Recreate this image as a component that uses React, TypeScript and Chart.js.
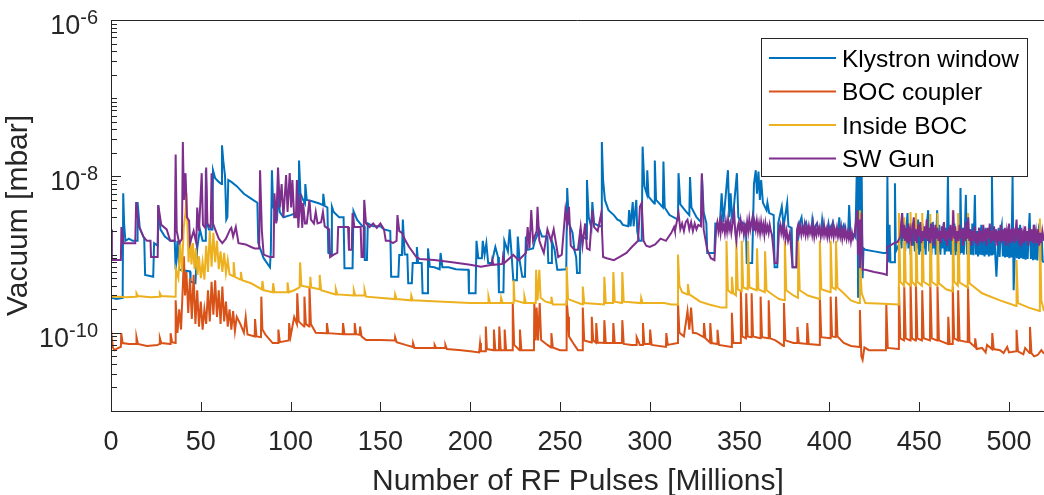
import React, { useEffect, useRef } from "react";
import { Chart, registerables } from "chart.js";

Chart.register(...registerables);

// ---------- labels / ticks ----------
const SERIES_LABELS = ["Klystron window", "BOC coupler", "Inside BOC", "SW Gun"];
const SERIES_COLORS = ["#0072BD", "#D95319", "#EDB120", "#7E2F8E"];
const X_TICKS = [0, 50, 100, 150, 200, 250, 300, 350, 400, 450, 500];
const Y_LABELED_EXPONENTS = [-6, -8, -10];
const X_MIN = 0;
const X_MAX = 519.5;
const Y_MIN = 1e-11;
const Y_MAX = 1e-6;
const X_TITLE = "Number of RF Pulses [Millions]";
const Y_TITLE = "Vacuum [mbar]";

// ---------- data: [pulses (millions), pressure (mbar)] ----------
const klystronWindow: [number, number][] = [
  [0, 2.8e-10], [3, 2.7e-10], [6.5, 2.8e-10], [6.8, 6.1e-9], [7.3, 2.5e-9], [8, 1.5e-9], [10, 1.6e-9], [12, 1.5e-9],
  [14.5, 1.5e-9], [14.8, 4.7e-9], [16, 2.2e-9], [18.5, 1.6e-9], [19, 5.5e-10], [23.5, 5.2e-10], [24, 1.4e-9], [26, 1.3e-9],
  [26.3, 4.3e-9], [27.5, 2.1e-9], [30, 1.7e-9], [33, 1.5e-9], [35.5, 1.5e-9], [36, 6.4e-10], [37, 1.5e-9], [38, 6.4e-10],
  [44, 6.1e-10], [44.3, 4.5e-10], [47, 4.3e-10], [48, 1.2e-9], [49.5, 2.1e-9], [51, 1.5e-9], [52.5, 1.5e-9], [52.8, 1.2e-8],
  [53.5, 2.5e-9], [54.5, 2.1e-9], [56.5, 2.1e-9], [56.8, 1.2e-8], [58, 9.5e-9], [60, 8.5e-9], [61.5, 8.0e-9], [61.8, 2.5e-8],
  [62.5, 1.6e-8], [63.5, 1.0e-8], [64.2, 2.8e-9], [64.8, 3e-9], [65.3, 9e-9], [67, 8.5e-9], [70, 7.5e-9], [74, 6.0e-9],
  [78, 5.2e-9], [81.5, 4.6e-9], [82, 1.4e-9], [85, 9e-10], [88.5, 6.9e-10], [89, 1.1e-9], [89.6, 1.2e-8], [90.3, 4.1e-9],
  [92.5, 3.0e-9], [93, 6e-9], [94, 3.5e-9], [96, 3.0e-9], [100, 3.2e-9], [103, 3.4e-9], [104.5, 3.5e-9], [104.7, 1.6e-8],
  [105.5, 6e-9], [107, 5e-9], [108, 4.5e-9], [108.2, 8e-9], [109, 5e-9], [112, 4.8e-9], [116, 4.5e-9], [118, 4.3e-9],
  [118.2, 6e-9], [119, 4.2e-9], [120.5, 4.0e-9], [121, 1.05e-9], [122.5, 1.0e-9], [123, 4.1e-9], [124, 3.5e-9], [127, 3e-9],
  [129.5, 3e-9], [130, 6.7e-10], [134.5, 6.7e-10], [135, 3.6e-9], [137, 2.8e-9], [140, 2.3e-9], [141, 2.3e-9], [141.3, 8.5e-10],
  [142.5, 8.5e-10], [143, 2.5e-9], [146, 2.3e-9], [150, 2.3e-9], [152, 2.1e-9], [155.5, 2.0e-9], [156, 5.2e-10], [160, 5.2e-10],
  [160.5, 9.9e-10], [162, 9.9e-10], [162.5, 2.8e-9], [163.5, 1.0e-9], [165, 1e-9], [165.5, 4.3e-10], [167.5, 4.3e-10], [168, 7.8e-10],
  [170, 7.8e-10], [170.3, 1.25e-9], [171, 7.8e-10], [173, 7.8e-10], [173.5, 3.2e-10], [176, 3.2e-10], [176.5, 1.2e-9], [177.5, 7e-10],
  [180, 6.9e-10], [183, 6.5e-10], [183.5, 1.05e-9], [184.5, 6.9e-10], [188, 6.9e-10], [192, 6.5e-10], [197, 6.4e-10], [199, 6.4e-10],
  [199.3, 3.2e-10], [203, 3.2e-10], [203.5, 1.5e-9], [204.5, 9e-10], [206.5, 9e-10], [207, 1.5e-9], [208, 1e-9], [209, 1.4e-9],
  [210, 7.8e-10], [212, 7.8e-10], [214, 1.25e-9], [215.5, 9.3e-10], [216, 3.3e-10], [218.5, 3.3e-10], [219, 1.5e-9], [221, 1.1e-9],
  [222, 2.1e-9], [223, 1.05e-9], [224, 4.7e-10], [226, 4.7e-10], [226.5, 1.7e-9], [227.5, 8.5e-10], [229, 5.2e-10], [230.5, 5.2e-10],
  [231, 1.7e-9], [232, 1.15e-9], [235, 1.2e-9], [236, 1.5e-9], [237, 1.7e-9], [238.5, 2.1e-9], [240, 1.7e-9], [243, 1.7e-9],
  [243.5, 7.8e-10], [245, 7.8e-10], [245.5, 1.5e-9], [247, 1.15e-9], [248.5, 6.4e-10], [250, 6.4e-10], [253.5, 6.5e-10], [254, 7.1e-9],
  [255, 2.5e-9], [257, 1.9e-9], [258, 1.15e-9], [259, 9.3e-10], [259.5, 5.8e-10], [261, 5.8e-10], [261.3, 1.9e-9], [262.5, 1.7e-9],
  [264.5, 1.6e-9], [265, 9e-9], [266, 3e-9], [267.5, 2.2e-9], [268, 4.7e-9], [269, 2.5e-9], [272, 2.3e-9], [273, 2.3e-9],
  [273.3, 2.75e-8], [274, 9e-9], [275, 5e-9], [277, 3.7e-9], [280, 3.2e-9], [282, 2.8e-9], [283.5, 2.7e-9], [285, 2.4e-9],
  [288, 2.3e-9], [288.5, 3.7e-9], [289.3, 2.3e-9], [290.5, 4.7e-9], [291, 2.3e-9], [292.5, 5e-9], [293, 2.0e-9], [294, 1.5e-9],
  [295.5, 1.5e-9], [296, 2.4e-8], [297, 7.5e-9], [298.3, 6e-9], [298.6, 1.2e-8], [299.3, 5.5e-9], [302.5, 4.5e-9], [302.8, 1.6e-8],
  [303.5, 5e-9], [307.3, 4e-9], [307.6, 1.55e-8], [308.3, 4e-9], [311, 3.2e-9], [315.7, 2.8e-9], [316, 1.1e-8], [317, 4.4e-9],
  [320, 3.6e-9], [322, 3.2e-9], [322.4, 9.8e-9], [323.2, 4e-9], [326, 3e-9], [328.5, 2.6e-9], [329, 1.04e-8], [330, 3.5e-9],
  [331.5, 2.5e-9], [332, 1.05e-9], [336, 1.05e-9], [336.5, 2.5e-9], [339, 2.4e-9], [340, 6.1e-9], [341, 2.6e-9], [343.5, 1.2e-8],
  [344.3, 3e-9], [345, 6.1e-9], [346, 2.5e-9], [348.5, 1.1e-8], [349.3, 3e-9], [351, 2.6e-9], [353.5, 2.4e-9], [354, 7.8e-10],
  [357, 7.8e-10], [358, 8e-9], [359, 1.2e-8], [359.7, 6e-9], [360.5, 1.15e-8], [361.3, 5e-9], [362, 9e-9], [363, 4.6e-9],
  [365, 3.7e-9], [365.5, 4.6e-9], [366.5, 3.4e-9], [369, 3.2e-9], [369.5, 6.9e-10], [371, 6.9e-10], [371.5, 2.5e-9], [373.5, 4.1e-9],
  [374.5, 2.3e-9], [376.5, 4.6e-9], [377.2, 2.3e-9], [379, 2.2e-9], [379.5, 6.9e-10], [382, 6.9e-10], [382.5, 2.2e-9], [384.5, 3.0e-9],
  [385.2, 2.1e-9], [387, 2.6e-9], [388, 2.0e-9], [390, 2.1e-9], [390.5, 2.8e-9], [391.2, 2.1e-9], [393, 2.5e-9], [394, 2.0e-9],
  [395.5, 2.1e-9], [396, 2.8e-9], [396.7, 2.1e-9], [399, 2.1e-9], [399.5, 2.5e-9], [400.2, 2.0e-9], [402, 2.6e-9], [403, 1.9e-9],
  [405, 2.0e-9], [405.5, 3e-9], [406.2, 1.9e-9], [408, 2.4e-9], [409, 1.9e-9], [410.5, 2.0e-9], [411, 4.3e-9], [411.7, 1.9e-9],
  [414, 1.8e-9], [414.5, 1.7e-9], [415.5, 2.2e-8], [416, 2.8e-10], [416.5, 1.2e-8], [417, 3e-10], [417.5, 2e-8], [418, 1.0e-8],
  [418.5, 5e-10], [419, 1.2e-9], [420, 1.15e-9], [425, 1.1e-9], [430, 1.05e-9], [432, 1.05e-9], [432.3, 9.8e-9], [432.8, 8.0e-10],
  [433.5, 2.4e-9], [434, 8e-10], [436, 8e-10], [436.5, 8.2e-9], [437, 1.1e-9],
  [439, 1.4e-9], [439.6, 2.2e-9], [440.2, 1.2e-9], [440.5, 3.4e-9], [441, 1.5e-9], [441.6, 2.6e-9], [442.2, 1.1e-9], [442.8, 2.0e-9],
  [443.5, 3.4e-9], [444, 1.2e-9], [444.6, 2.3e-9], [445.2, 1.0e-9], [445.8, 2.5e-9], [446.4, 1.3e-9], [447, 2.1e-9], [447.6, 1.1e-9],
  [448.2, 2.4e-9], [448.8, 1.2e-9], [449.4, 2.8e-9], [450, 1.0e-9], [450.6, 2.2e-9], [451.2, 1.1e-9], [451.8, 2.5e-9], [452.4, 1.2e-9],
  [453, 2.0e-9], [453.6, 1.0e-9], [454.2, 2.3e-9], [455, 3.7e-9], [455.6, 1.1e-9], [456.2, 2.2e-9], [456.8, 1.0e-9], [457.4, 2.6e-9],
  [458, 1.2e-9], [458.6, 2.1e-9], [459.2, 1.0e-9], [460, 3.7e-9], [460.6, 1.1e-9], [461.2, 2.4e-9], [461.8, 1.0e-9], [462.4, 2.0e-9],
  [463, 1.2e-9], [463.6, 2.5e-9], [464.2, 1.0e-9], [464.8, 2.2e-9], [465.4, 1.1e-9], [466, 9.8e-9], [466.6, 1.1e-9], [467.2, 2.3e-9],
  [467.8, 1.0e-9], [468.4, 2.1e-9], [469, 1.1e-9], [469.6, 2.5e-9], [470.2, 9.8e-10], [470.8, 2.0e-9], [471.4, 1.1e-9], [472, 2.4e-9],
  [472.6, 1.0e-9], [473, 7.1e-9], [473.6, 1.05e-9], [474.2, 2.2e-9], [474.8, 1.0e-9], [475.4, 2.0e-9], [476, 5.8e-9], [476.6, 1.0e-9],
  [477.2, 2.3e-9], [477.8, 9.8e-10], [478.4, 2.1e-9], [479, 1.0e-9], [479.6, 2.5e-9], [480.2, 9.8e-10], [481, 5.8e-9], [481.6, 1.0e-9],
  [482.2, 2.0e-9], [482.8, 9.5e-10], [483.4, 2.2e-9], [484, 1.0e-9], [484.6, 2.4e-9], [485.2, 9.8e-10], [485.8, 1.9e-9], [486.4, 9.5e-10],
  [487, 2.2e-9], [487.6, 1.0e-9], [488.2, 2.0e-9], [488.8, 9.5e-10], [489.4, 2.3e-9], [490, 1.0e-9], [490.5, 9.8e-9], [491.2, 1.0e-9],
  [491.8, 2.1e-9], [492.4, 9.5e-10], [493, 5.2e-10], [493.6, 1.0e-9], [494.2, 2.2e-9], [494.8, 9.3e-10], [495.4, 2.0e-9], [496, 2.4e-9],
  [496.6, 9.5e-10], [497.2, 1.9e-9], [497.8, 9.2e-10], [498.4, 2.1e-9], [499, 9.3e-10], [499.6, 2.0e-9], [500.2, 9.0e-10], [500.8, 1.8e-9],
  [501.4, 9.2e-10], [502, 9.8e-9], [502.6, 3.5e-10], [503.2, 9.3e-10], [503.8, 2.0e-9], [504.4, 9.0e-10], [505, 2.2e-9], [505.6, 8.8e-10],
  [506.2, 2.4e-9], [506.8, 9.0e-10], [507.4, 1.9e-9], [508, 8.8e-10], [508.6, 2.1e-9], [509.2, 8.6e-10], [509.8, 1.8e-9], [510.4, 8.8e-10],
  [511, 2.0e-9], [511.5, 3.4e-9], [512.2, 8.8e-10], [512.8, 1.9e-9], [513.4, 8.5e-10], [514, 2.4e-9], [514.6, 8.6e-10], [515.2, 1.8e-9],
  [515.8, 8.4e-10], [516.4, 2.0e-9], [517, 2.5e-9], [517.6, 8.3e-10], [518.2, 1.7e-9], [518.8, 8.2e-10], [519.5, 8e-10],
];

const bocCoupler: [number, number][] = [
  [0, 1.1e-10], [1, 6.5e-11], [2, 6.0e-11], [4, 6.4e-11], [5.5, 6.6e-11], [5.7, 9.9e-11], [6.5, 7.4e-11], [10, 7.2e-11],
  [14, 7.2e-11], [14.2, 8.8e-11], [15, 7.2e-11], [20, 6.8e-11], [26, 7.0e-11], [27, 7.2e-11], [27.2, 8.6e-11], [28, 7.4e-11],
  [33, 7.2e-11], [33.2, 9.9e-11], [34, 7.6e-11], [35.8, 7.4e-11], [36, 2.6e-10], [37, 1.0e-10], [38, 2.0e-10], [39, 1.1e-10],
  [40, 4e-10], [40.6, 9.5e-10], [41.2, 3e-10], [42, 6e-10], [43, 1.8e-10], [44, 5e-10], [45, 1.5e-10], [46, 5.5e-10],
  [47, 1.3e-10], [48, 3.5e-10], [49, 1.2e-10], [50, 2.5e-10], [51, 1.1e-10], [52, 2.0e-10], [53, 1.3e-10], [54, 3.5e-10],
  [55, 1.4e-10], [56, 4.5e-10], [57, 1.7e-10], [58, 4.7e-10], [59, 1.6e-10], [60, 3.5e-10], [61, 1.3e-10], [62, 3.9e-10],
  [63, 1.4e-10], [64, 2.5e-10], [65, 1.2e-10], [66, 2e-10], [67, 1.1e-10], [68, 1.9e-10], [69, 1.05e-10], [70, 1.6e-10],
  [72, 1.3e-10], [74, 1.0e-10], [75, 1.6e-10], [76, 9.5e-11], [80, 9.0e-11], [80.2, 1.5e-10], [81, 9e-11], [83.5, 8.8e-11],
  [83.7, 2.9e-10], [84.3, 1.1e-10], [86, 9.5e-11], [90, 7.4e-11], [93, 7.4e-11], [93.2, 1.1e-10], [94, 7.6e-11], [99, 8e-11],
  [99.2, 1.33e-10], [100, 9e-11], [102, 1.6e-10], [103.5, 1.3e-10], [103.7, 3.2e-10], [104.5, 1.4e-10], [107.5, 1.2e-10], [107.7, 2.9e-10],
  [108.5, 1.3e-10], [110.3, 1.2e-10], [110.5, 3.9e-10], [111.3, 1.3e-10], [114, 1.0e-10], [120, 9.9e-11], [120.2, 1.33e-10], [121, 9.9e-11],
  [129, 9.6e-11], [129.2, 1.33e-10], [130, 9.6e-11], [135.5, 9.6e-11], [135.7, 1.33e-10], [136.5, 9.6e-11], [138.5, 9.4e-11], [138.7, 1.2e-10],
  [139.5, 9e-11], [142, 8.1e-11], [150, 8.1e-11], [158, 8e-11], [158.2, 8.8e-11], [159, 7.6e-11], [164, 7.0e-11], [168, 6.6e-11],
  [168.2, 7.4e-11], [169, 6.4e-11], [180, 6.4e-11], [180.2, 7.0e-11], [181, 6.4e-11], [186, 6.4e-11], [186.2, 7.0e-11], [187, 6.2e-11],
  [195, 6.0e-11], [200, 5.8e-11], [205, 5.6e-11], [205.5, 7.4e-11], [206, 5.8e-11], [208.5, 5.8e-11], [208.7, 1.2e-10], [209.3, 6.2e-11],
  [213, 6e-11], [213.2, 1.1e-10], [214, 6e-11], [216, 6e-11], [216.2, 1.2e-10], [217, 6e-11], [219, 6e-11], [219.2, 1.1e-10],
  [220, 6e-11], [223.5, 6e-11], [223.7, 2.4e-10], [224.5, 7e-11], [227.5, 6e-11], [227.7, 1.1e-10], [228.5, 6e-11], [235.5, 6e-11],
  [235.7, 2.4e-10], [236.5, 8e-11], [237, 2.1e-10], [237.8, 8e-11], [238.7, 2.4e-10], [239.5, 8.1e-11], [243, 7e-11], [245, 6.5e-11],
  [245.2, 9.9e-11], [246, 6.5e-11], [250, 6.0e-11], [253.5, 6e-11], [253.7, 2.6e-10], [254.5, 1.6e-10], [255, 9e-11], [258, 7e-11],
  [260, 6e-11], [262.5, 6e-11], [262.7, 2.1e-10], [263.5, 8e-11], [267.5, 7.5e-11], [267.7, 1.6e-10], [268.5, 8e-11], [270, 7.5e-11],
  [270.2, 1.33e-10], [271, 7.5e-11], [274.5, 7.4e-11], [274.7, 1.45e-10], [275.5, 7.4e-11], [279.5, 7.4e-11], [279.7, 1.33e-10], [280.5, 7.4e-11],
  [284.5, 7.4e-11], [284.7, 1.45e-10], [285.5, 7.2e-11], [290, 7e-11], [292.5, 7e-11], [292.7, 8.8e-11], [294.5, 7e-11], [296, 7e-11],
  [296.2, 1.33e-10], [297, 7.2e-11], [300, 7.2e-11], [300.2, 1.1e-10], [301, 7e-11], [309, 6.6e-11], [309.2, 9.9e-11], [310, 7e-11],
  [315.5, 7.4e-11], [315.7, 2.4e-10], [316.5, 1e-10], [319, 9e-11], [321, 1.9e-10], [322, 1.1e-10], [323, 2.1e-10], [324, 1.0e-10],
  [326, 9.9e-11], [330, 8.8e-11], [330.2, 1.33e-10], [331, 8.5e-11], [333.5, 7.5e-11], [333.7, 1.33e-10], [334.5, 7.4e-11], [337.5, 7.2e-11],
  [337.7, 1.09e-10], [338.5, 7e-11], [345.5, 6.6e-11], [345.7, 1.8e-10], [346.5, 7.4e-11], [350.5, 7.4e-11], [350.7, 3.5e-10], [351.5, 9e-11],
  [353.5, 8.5e-11], [353.7, 3.2e-10], [354.5, 9e-11], [356.5, 8.8e-11], [356.7, 3.2e-10], [357.5, 9e-11], [361.5, 8.5e-11], [361.7, 2.9e-10],
  [362.5, 8.8e-11], [366, 8.5e-11], [366.2, 2.6e-10], [367, 8.5e-11], [370, 8e-11], [374.5, 6.8e-11], [374.7, 2.4e-10], [375.5, 8e-11],
  [380, 7.4e-11], [382, 7.4e-11], [382.2, 1.19e-10], [383, 7.4e-11], [387.5, 7.2e-11], [387.7, 1.33e-10], [388.5, 7.2e-11], [394.5, 7e-11],
  [394.7, 2.9e-10], [395.5, 8.8e-11], [400.5, 8.5e-11], [400.7, 2.9e-10], [401.5, 9e-11], [403.5, 8.8e-11], [403.7, 2.9e-10], [404.5, 9e-11],
  [408, 7.4e-11], [412, 6.8e-11], [416.8, 6.6e-11], [417, 1.95e-10], [417.8, 5e-11], [418.5, 4.5e-11], [419.5, 6.5e-11], [422, 6.0e-11],
  [431.5, 6.0e-11], [431.7, 2.3e-10], [432.5, 6.4e-11], [438.5, 6.2e-11], [438.7, 3.9e-10], [439.5, 8.5e-11], [441.5, 8e-11], [441.7, 3.9e-10],
  [442.5, 8.5e-11], [445, 8e-11], [445.2, 4.3e-10], [446, 8.5e-11], [448, 8e-11], [448.2, 4.3e-10], [449, 8.5e-11], [451.5, 8e-11],
  [451.7, 3.5e-10], [452.5, 8.5e-11], [456, 8e-11], [456.2, 4.3e-10], [457, 8.5e-11], [460, 8e-11], [460.2, 3.9e-10], [461, 8e-11],
  [466, 7.2e-11], [466.2, 1.6e-10], [467, 7.2e-11], [468.5, 7.2e-11], [468.7, 3.9e-10], [469.5, 8.5e-11], [471.5, 8e-11], [471.7, 3.5e-10],
  [472.5, 8e-11], [477, 7.6e-11], [477.2, 3.9e-10], [478, 7.6e-11], [481, 6.6e-11], [481.2, 8.5e-11], [482, 6.2e-11], [485, 6.4e-11],
  [487, 5.6e-11], [487.8, 7e-11], [490.5, 6.2e-11], [490.7, 9.9e-11], [491.5, 6.2e-11], [495, 6.0e-11], [497, 5.5e-11], [499, 6.6e-11],
  [500, 5.6e-11], [504, 5.8e-11], [504.2, 1.09e-10], [505, 5.8e-11], [508, 5.3e-11], [509, 6.4e-11], [511.5, 5.5e-11], [511.7, 1.19e-10],
  [512.5, 5.5e-11], [514, 5.0e-11], [516, 5.2e-11], [518, 6.0e-11], [519.5, 5.4e-11],
];

const insideBoc: [number, number][] = [
  [0, 2.9e-10], [5, 2.9e-10], [8, 2.85e-10], [14, 2.9e-10], [14.2, 3.2e-10], [15, 2.95e-10], [22, 2.85e-10], [27, 2.9e-10],
  [27.2, 3.2e-10], [28, 2.95e-10], [35.5, 2.9e-10], [36, 2.9e-10], [36.2, 6.4e-10], [37.5, 5.0e-10], [38.5, 1.4e-9], [39.5, 6e-10],
  [40.5, 2.2e-9], [41.5, 3.5e-9], [42, 6.1e-9], [42.6, 2.2e-9], [43.2, 8e-10], [44, 1.8e-9], [44.8, 7.5e-10], [45.6, 1.4e-9],
  [46.5, 6.5e-10], [47.3, 1.2e-9], [48.2, 5.5e-10], [49, 9.5e-10], [50, 5e-10], [51, 8e-10], [52, 4.8e-10], [53, 1.3e-9],
  [54, 6e-10], [55, 2.0e-9], [56, 7e-10], [57, 1.9e-9], [58, 8e-10], [59, 1.5e-9], [60, 6.5e-10], [61, 1.1e-9],
  [62, 6e-10], [63, 1.05e-9], [64, 5.8e-10], [65, 8.5e-10], [66, 5.6e-10], [68, 5.3e-10], [68.3, 8e-10], [69, 5.2e-10],
  [72, 4.8e-10], [72.3, 6e-10], [73, 4.7e-10], [78, 4.3e-10], [84, 3.6e-10], [84.3, 4.6e-10], [85, 3.5e-10], [90, 3.3e-10],
  [90.3, 4.3e-10], [91, 3.3e-10], [98, 3.3e-10], [98.3, 4.4e-10], [99, 3.3e-10], [102, 3.5e-10], [105, 3.8e-10], [105.3, 8e-10],
  [106, 4e-10], [110.8, 3.8e-10], [111, 5.2e-10], [111.5, 3.8e-10], [116, 3.6e-10], [116.2, 5.5e-10], [117, 3.5e-10], [125, 3.1e-10],
  [125.2, 3.6e-10], [126, 3.1e-10], [135, 3.0e-10], [135.2, 3.5e-10], [136, 3.0e-10], [141, 3.0e-10], [141.2, 3.5e-10], [142, 2.9e-10],
  [158, 2.7e-10], [158.2, 3.1e-10], [159, 2.7e-10], [167, 2.6e-10], [167.2, 3.0e-10], [168, 2.6e-10], [185, 2.5e-10], [200, 2.4e-10],
  [210, 2.4e-10], [210.2, 2.9e-10], [211, 2.4e-10], [217, 2.4e-10], [217.2, 2.8e-10], [218, 2.4e-10], [224, 2.4e-10], [224.2, 4.7e-10],
  [224.7, 2.6e-10], [230, 2.4e-10], [230.2, 2.9e-10], [231, 2.4e-10], [236.5, 2.4e-10], [236.7, 6.4e-10], [237.5, 2.6e-10], [238.5, 6.4e-10],
  [239.2, 2.8e-10], [242, 2.5e-10], [245, 2.4e-10], [245.2, 2.9e-10], [246, 2.3e-10], [253.5, 2.3e-10], [253.7, 7e-10], [254.5, 2.7e-10],
  [262.5, 2.3e-10], [262.7, 3.9e-10], [263.5, 2.4e-10], [274.5, 2.3e-10], [274.7, 5.2e-10], [275.5, 2.4e-10], [279.5, 2.4e-10], [279.7, 6e-10],
  [280.5, 2.5e-10], [284.5, 2.4e-10], [284.7, 6e-10], [285.5, 2.5e-10], [295, 2.4e-10], [295.2, 2.8e-10], [296, 2.4e-10], [308, 2.4e-10],
  [312, 2.3e-10], [315.5, 2.3e-10], [315.7, 1.0e-9], [316.5, 4e-10], [318, 3.3e-10], [321, 3.1e-10], [321.2, 4.2e-10], [322, 3.1e-10],
  [325, 2.8e-10], [328, 2.5e-10], [333, 2.3e-10], [340, 2.1e-10], [342.5, 2.1e-10], [342.7, 1.5e-9], [343.5, 3.5e-10], [345.5, 3.2e-10],
  [345.7, 5.2e-10], [346.5, 3.2e-10], [348, 3.0e-10], [348.2, 1.5e-9], [349, 3.6e-10], [351, 3.4e-10], [351.2, 1.5e-9], [352, 3.8e-10],
  [354.5, 3.6e-10], [354.7, 1.5e-9], [355.5, 3.8e-10], [359.5, 3.5e-10], [359.7, 1.2e-9], [360.5, 3.6e-10], [364, 3.3e-10], [364.2, 1.1e-9],
  [365, 3.5e-10], [369, 3.0e-10], [372, 2.7e-10], [375, 2.6e-10], [375.2, 1.5e-9], [376, 3.5e-10], [380, 3.0e-10], [382.5, 2.8e-10],
  [382.7, 1.5e-9], [383.5, 3.5e-10], [388, 3.0e-10], [394.5, 2.7e-10], [394.7, 1.5e-9], [395.5, 3.6e-10], [400.5, 3.3e-10], [400.7, 1.5e-9],
  [401.5, 3.8e-10], [403.5, 3.6e-10], [403.7, 1.5e-9], [404.5, 3.8e-10], [408, 3.2e-10], [412, 2.6e-10], [416, 2.4e-10], [416.8, 2.4e-10],
  [417, 3.7e-9], [417.5, 5e-10], [418, 3.2e-10], [420, 2.4e-10], [430, 2.35e-10], [438.5, 2.3e-10], [438.7, 3.4e-9], [439.5, 4.5e-10],
  [441.5, 4e-10], [441.7, 3.0e-9], [442.5, 4.5e-10], [445, 4.0e-10], [445.2, 3.5e-9], [446, 4.5e-10], [448, 4.0e-10], [448.2, 3.4e-9],
  [449, 4.5e-10], [451.5, 4.0e-10], [451.7, 3.4e-9], [452.5, 4.5e-10], [456, 4.0e-10], [456.2, 3.3e-9], [457, 4.5e-10], [460, 4.0e-10],
  [460.2, 3.4e-9], [461, 4.3e-10], [465, 3.6e-10], [468.5, 3.4e-10], [468.7, 3.7e-9], [469.5, 4.5e-10], [471.5, 4.0e-10], [471.7, 3.4e-9],
  [472.5, 4.4e-10], [477, 3.8e-10], [477.2, 3.4e-9], [478, 4.3e-10], [485, 3.2e-10], [495, 2.6e-10], [504, 2.2e-10], [504.2, 8.5e-10],
  [505, 2.4e-10], [511, 2.1e-10], [517, 1.9e-10], [517.2, 2.9e-9], [518, 2.6e-10], [519.5, 1.9e-10],
];

const swGun: [number, number][] = [
  [0, 2.1e-9], [0.5, 8.5e-10], [3, 8.5e-10], [5.5, 8.5e-10], [5.8, 2.25e-9], [7, 1.4e-9], [13.5, 1.4e-9], [14, 4.7e-9],
  [15.5, 2.3e-9], [18, 1.7e-9], [20, 1.5e-9], [22, 1.5e-9], [22.3, 9.3e-10], [26, 9.3e-10], [26.3, 4.3e-9], [28, 2.4e-9],
  [31, 2.1e-9], [33, 1.5e-9], [35.5, 1.5e-9], [36, 1.9e-8], [36.6, 2e-9], [38, 1.4e-9], [39.5, 1.6e-9], [40, 2.75e-8],
  [40.6, 5e-9], [41.5, 1.1e-8], [42.3, 3e-9], [43.5, 2.7e-9], [44, 1.4e-9], [46, 2e-9], [47.5, 1.4e-9], [48, 4e-9],
  [49, 2e-9], [50.5, 1.1e-8], [51.2, 2.4e-9], [52.5, 2.2e-9], [53, 1.3e-8], [53.7, 2.5e-9], [55.5, 2.2e-9], [56, 1.1e-8],
  [56.8, 2.5e-9], [58, 2.1e-9], [60, 1.6e-9], [62, 1.4e-9], [64, 1.6e-9], [66.3, 2.1e-9], [67, 2.2e-9], [68, 1.7e-9],
  [69.5, 2.25e-9], [71, 1.4e-9], [75, 1.35e-9], [78, 1.25e-9], [80, 1.2e-9], [82.5, 1.2e-9], [83, 1.2e-8], [84, 2e-9],
  [85, 1.0e-9], [88.5, 9.3e-10], [90.5, 9.3e-10], [91, 6.1e-9], [92, 2.5e-9], [93, 1.3e-8], [94, 4e-9], [95, 8e-9],
  [96, 3e-9], [97.5, 1.04e-8], [98.3, 3.5e-9], [99.5, 1.1e-8], [100.3, 4e-9], [101, 9e-9], [102, 3e-9], [103, 3.0e-9],
  [103.5, 9e-9], [104.3, 2.2e-9], [105.5, 6e-9], [106.5, 2.2e-9], [107, 4.6e-9], [108, 2.5e-9], [109, 2.5e-9], [110.5, 5e-9],
  [111.3, 2.8e-9], [113, 2.5e-9], [114, 3.5e-9], [115, 2.5e-9], [117, 2.6e-9], [118, 3.5e-9], [119, 2.3e-9], [121.5, 2.1e-9],
  [122, 9.3e-10], [124, 1.0e-9], [126, 1.05e-9], [126.5, 2.25e-9], [132, 2.25e-9], [132.5, 1.15e-9], [134, 1.15e-9], [134.5, 3.4e-9],
  [135.5, 2.25e-9], [139, 2.25e-9], [139.5, 9.3e-10], [140.5, 9.3e-10], [141, 5e-9], [142, 2.5e-9], [144, 2.25e-9], [146, 2.5e-9],
  [148, 2.2e-9], [150, 2.5e-9], [152, 2.1e-9], [153, 1.5e-9], [155, 1.5e-9], [157, 1.4e-9], [159, 1.5e-9], [159.5, 3.2e-9],
  [160.5, 2e-9], [162, 1.9e-9], [164, 1.5e-9], [166, 1.25e-9], [170, 9.3e-10], [172, 8.8e-10], [180, 8.5e-10], [190, 8.0e-10],
  [200, 7.4e-10], [206, 7.0e-10], [212, 7.4e-10], [212.3, 8.5e-10], [213, 7.4e-10], [218, 7.6e-10], [218.3, 9.3e-10], [219, 7.8e-10],
  [224, 9.9e-10], [227, 8.5e-10], [231, 1.05e-9], [232, 2.25e-9], [233, 1.2e-9], [234, 3.7e-9], [235, 1.5e-9], [237, 2e-9],
  [237.5, 4.1e-9], [238.5, 1.5e-9], [240, 1.2e-9], [241, 1.05e-9], [243, 2.1e-9], [245, 1.5e-9], [246.5, 2.1e-9], [248, 1.3e-9],
  [249, 9.3e-10], [251, 1.0e-9], [253, 3.7e-9], [254, 2.5e-9], [255, 4.1e-9], [256, 1.3e-9], [258, 1.15e-9], [260, 1.15e-9],
  [261.5, 2.25e-9], [262.5, 1.3e-9], [264, 2.5e-9], [265, 1.2e-9], [266.5, 1.15e-9], [268, 3.7e-9], [269, 2.25e-9], [271, 2e-9],
  [273, 3.4e-9], [274, 9.3e-10], [276, 9e-10], [280, 8.5e-10], [283, 9.3e-10], [287, 1.05e-9], [290, 1.25e-9], [293.5, 1.5e-9],
  [294.5, 4.1e-9], [295.5, 4.6e-9], [296.5, 1.5e-9], [298, 1.3e-9], [300, 1.25e-9], [303, 1.35e-9], [306, 1.6e-9], [309, 1.5e-9],
  [312, 1.9e-9], [313.5, 2.25e-9], [314, 2.0e-9], [316, 3.4e-9], [317, 2.1e-9], [318, 2.5e-9], [319, 2.0e-9], [320, 2.6e-9],
  [321, 2.8e-9], [322, 2.1e-9], [323, 2.6e-9], [324, 2.0e-9], [325, 2.5e-9], [326, 2.1e-9], [327, 2.4e-9], [328.5, 2.3e-9],
  [329, 1.1e-8], [330, 2.1e-9], [332, 1.15e-9], [334, 9e-10], [336, 8.5e-10],
  [337, 2.25e-9], [337.6, 2.6e-9], [338.2, 2.0e-9], [338.8, 2.5e-9], [339.4, 1.9e-9], [340, 2.7e-9], [340.6, 2.1e-9], [341.2, 2.4e-9],
  [341.8, 1.9e-9], [342.4, 2.6e-9], [343, 2.0e-9], [343.6, 2.8e-9], [344.2, 2.1e-9], [344.8, 2.5e-9], [345.4, 1.9e-9], [346, 2.4e-9],
  [347, 3.4e-9], [347.6, 1.9e-9], [348.2, 1.5e-9], [348.8, 2.2e-9], [349.4, 2.5e-9], [350, 2.0e-9], [350.6, 2.7e-9], [351.2, 2.1e-9],
  [351.8, 2.4e-9], [352.4, 1.8e-9], [353, 2.3e-9], [353.6, 1.9e-9], [354.2, 2.6e-9], [354.8, 2.0e-9], [355.4, 2.8e-9], [356, 2.1e-9],
  [356.6, 2.5e-9], [357.2, 3.0e-9], [357.8, 2.0e-9], [358.4, 2.6e-9], [359, 2.1e-9], [359.6, 2.7e-9], [360.2, 2.0e-9], [360.8, 2.5e-9],
  [361.4, 1.9e-9], [362, 2.6e-9], [362.6, 2.0e-9], [363.2, 2.4e-9], [363.8, 1.8e-9], [364.4, 2.5e-9], [365, 2.0e-9], [365.6, 2.3e-9],
  [366.2, 1.9e-9], [366.8, 2.4e-9], [367.4, 2.0e-9], [368, 1.8e-9], [368.5, 1.4e-9], [369.5, 7.8e-10], [371, 7.8e-10], [372, 2.1e-9],
  [372.6, 2.4e-9], [373.2, 1.9e-9], [373.8, 2.3e-9], [374.4, 1.8e-9], [375, 2.2e-9], [375.6, 1.6e-9], [376.2, 2.0e-9], [377, 1.5e-9],
  [378, 1.9e-9], [379.5, 6.9e-10], [381.5, 6.9e-10], [382, 2.1e-9], [382.6, 2.4e-9], [383.2, 1.9e-9], [383.8, 2.3e-9], [384.4, 1.8e-9],
  [385, 2.2e-9], [385.6, 1.9e-9], [386.2, 2.4e-9], [386.8, 1.8e-9], [387.4, 2.2e-9], [388, 1.8e-9], [388.6, 2.3e-9], [389.2, 1.9e-9],
  [389.8, 2.2e-9], [390.4, 1.8e-9], [391, 2.4e-9], [391.6, 1.7e-9], [392.2, 2.1e-9], [392.8, 1.8e-9], [393.4, 2.3e-9], [394, 1.9e-9],
  [394.6, 2.2e-9], [395.2, 1.7e-9], [395.8, 2.1e-9], [396.4, 1.8e-9], [397, 2.4e-9], [397.6, 1.8e-9], [398.2, 2.1e-9], [398.8, 1.7e-9],
  [399.4, 2.2e-9], [400, 1.7e-9], [400.6, 2.1e-9], [401.2, 1.8e-9], [401.8, 2.3e-9], [402.4, 1.7e-9], [403, 2.1e-9], [403.6, 1.8e-9],
  [404.2, 2.2e-9], [404.8, 1.7e-9], [405.4, 2.0e-9], [406, 1.7e-9], [406.6, 2.2e-9], [407.2, 1.6e-9], [407.8, 2.0e-9], [408.4, 1.7e-9],
  [409, 2.1e-9], [409.6, 1.6e-9], [410.2, 1.9e-9], [410.8, 1.6e-9], [411.4, 2.0e-9], [412, 1.5e-9], [412.6, 1.9e-9], [413.2, 1.6e-9],
  [414, 1.8e-9], [415.5, 3.7e-9], [416, 1.0e-9], [416.5, 2.8e-9], [417, 6.7e-10], [418, 3.4e-9], [418.5, 6.4e-10], [420, 6.4e-10],
  [425, 6.0e-10], [430, 5.7e-10], [432, 5.5e-10], [432.3, 1.25e-9], [436, 1.4e-9], [438, 1.45e-9],
  [439.5, 1.7e-9], [440, 2.6e-9], [440.5, 3.4e-9], [441, 1.6e-9], [441.6, 2.4e-9], [442.2, 1.5e-9], [442.8, 2.2e-9], [443.4, 1.4e-9],
  [444, 2.5e-9], [444.6, 1.6e-9], [445.2, 2.0e-9], [445.8, 1.3e-9], [446.4, 2.3e-9], [447, 3.0e-9], [447.6, 1.5e-9], [448.2, 2.1e-9],
  [448.8, 1.4e-9], [449.4, 2.4e-9], [450, 1.7e-9], [450.6, 2.6e-9], [451.2, 1.4e-9], [451.8, 2.0e-9], [452.4, 1.5e-9], [453, 2.3e-9],
  [453.6, 1.6e-9], [454.2, 2.8e-9], [454.8, 1.5e-9], [455.4, 2.2e-9], [456, 1.4e-9], [456.6, 2.5e-9], [457.2, 1.7e-9], [457.8, 2.1e-9],
  [458.4, 1.3e-9], [459, 2.4e-9], [459.6, 1.6e-9], [460.2, 2.2e-9], [460.8, 1.5e-9], [461.4, 2.0e-9], [462, 1.4e-9], [462.6, 2.3e-9],
  [463.2, 1.6e-9], [463.8, 2.6e-9], [464.4, 1.5e-9], [465, 2.0e-9], [465.6, 1.3e-9], [466.2, 2.2e-9], [466.8, 1.6e-9], [467.4, 2.4e-9],
  [468, 1.5e-9], [468.6, 2.1e-9], [469, 3.7e-9], [469.5, 1.6e-9], [470.1, 2.3e-9], [470.7, 1.4e-9], [471.3, 2.0e-9], [471.9, 1.5e-9],
  [472.5, 2.4e-9], [473.1, 1.6e-9], [473.7, 2.1e-9], [474.3, 1.3e-9], [474.9, 2.2e-9], [475.5, 1.5e-9], [476.1, 2.6e-9], [476.7, 1.6e-9],
  [477.3, 3.0e-9], [477.9, 1.5e-9], [478.5, 2.1e-9], [479.1, 1.3e-9], [479.7, 2.0e-9], [480.3, 1.5e-9], [480.9, 2.3e-9], [481.5, 1.4e-9],
  [482.1, 1.9e-9], [482.7, 1.3e-9], [483.3, 2.2e-9], [483.9, 1.5e-9], [484.5, 2.0e-9], [485.1, 1.4e-9], [485.7, 2.4e-9], [486.3, 1.5e-9],
  [486.9, 2.1e-9], [487.5, 1.3e-9], [488.1, 2.2e-9], [488.7, 1.6e-9], [489.3, 2.5e-9], [489.9, 1.4e-9], [490.5, 2.0e-9], [491.1, 1.5e-9],
  [491.7, 2.3e-9], [492.3, 1.6e-9], [492.9, 2.1e-9], [493.5, 1.3e-9], [494.1, 2.0e-9], [494.7, 1.5e-9], [495.3, 2.4e-9], [495.9, 1.4e-9],
  [496.5, 2.1e-9], [497.1, 1.5e-9], [497.7, 2.2e-9], [498.3, 1.3e-9], [498.9, 2.0e-9], [499.5, 1.6e-9], [500.1, 2.5e-9], [500.7, 1.4e-9],
  [501.3, 2.1e-9], [501.9, 1.5e-9], [502.5, 2.2e-9], [503.1, 1.4e-9], [503.7, 2.0e-9], [504.2, 2.8e-9], [504.8, 1.5e-9], [505.4, 2.1e-9],
  [506, 1.3e-9], [506.6, 2.2e-9], [507.2, 1.5e-9], [507.8, 1.9e-9], [508.4, 1.4e-9], [509, 2.3e-9], [509.6, 1.5e-9], [510.2, 2.0e-9],
  [510.8, 1.3e-9], [511.4, 2.2e-9], [512, 1.5e-9], [512.6, 2.1e-9], [513.2, 1.4e-9], [513.8, 2.4e-9], [514.4, 1.6e-9], [515, 2.0e-9],
  [515.6, 1.4e-9], [516.2, 2.1e-9], [516.8, 1.3e-9], [517.4, 1.9e-9], [518, 1.4e-9], [518.6, 2.0e-9], [519.5, 1.5e-9],
];

const SERIES_DATA = [klystronWindow, bocCoupler, insideBoc, swGun];
// MATLAB draws later lines on top: lower "order" is drawn last in Chart.js
const SERIES_ORDER = [3, 2, 1, 0];

// ---------- styling ----------
const FONT = '"Liberation Sans", Arial, Helvetica, sans-serif';
const INK = "#262626";

const decorPlugin = {
  id: "matlabDecor",
  afterDraw(chart: any) {
    const ctx: CanvasRenderingContext2D = chart.ctx;
    const { left, right, top, bottom } = chart.chartArea;
    const xs = chart.scales.x;
    const ys = chart.scales.y;
    ctx.save();

    // axes box
    ctx.strokeStyle = INK;
    ctx.lineWidth = 1;
    ctx.beginPath();
    ctx.moveTo(left + 0.5, bottom + 0.5);
    ctx.lineTo(left + 0.5, top + 0.5);
    ctx.lineTo(right, top + 0.5);
    ctx.moveTo(left + 0.5, bottom + 0.5);
    ctx.lineTo(right, bottom + 0.5);
    ctx.stroke();

    // x ticks + labels
    ctx.fillStyle = INK;
    ctx.font = `27px ${FONT}`;
    ctx.textAlign = "center";
    ctx.textBaseline = "alphabetic";
    ctx.beginPath();
    for (const v of X_TICKS) {
      const px = Math.round(xs.getPixelForValue(v)) + 0.5;
      ctx.moveTo(px, bottom);
      ctx.lineTo(px, bottom - 9);
    }
    ctx.stroke();
    for (const v of X_TICKS) {
      const px = xs.getPixelForValue(v);
      ctx.fillText(String(v), px, 450);
    }

    // y ticks (log minor ticks)
    ctx.beginPath();
    for (let e = -11; e <= -6; e++) {
      for (let m = 1; m <= 9; m++) {
        const v = m * Math.pow(10, e);
        if (v < Y_MIN * 0.999 || v > Y_MAX * 1.001) continue;
        const py = Math.round(ys.getPixelForValue(v)) + 0.5;
        const len = m === 1 && Y_LABELED_EXPONENTS.includes(e) ? 10 : 6;
        ctx.moveTo(left, py);
        ctx.lineTo(left + len, py);
      }
    }
    ctx.stroke();

    // y labels 10^e
    const labelRight = left - 13;
    for (const e of Y_LABELED_EXPONENTS) {
      const py = ys.getPixelForValue(Math.pow(10, e));
      const expStr = "-" + String(-e);
      ctx.font = `20px ${FONT}`;
      const ew = ctx.measureText(expStr).width;
      ctx.font = `27px ${FONT}`;
      const bw = ctx.measureText("10").width;
      ctx.textAlign = "left";
      ctx.fillText("10", labelRight - ew - bw, py + 14);
      ctx.font = `20px ${FONT}`;
      ctx.fillText(expStr, labelRight - ew, py + 4);
    }

    // axis titles
    ctx.font = `30px ${FONT}`;
    ctx.textAlign = "center";
    ctx.textBaseline = "alphabetic";
    ctx.fillText(X_TITLE, (left + 1045) / 2, 490);
    ctx.save();
    ctx.translate(27, (top + bottom) / 2);
    ctx.rotate(-Math.PI / 2);
    ctx.fillText(Y_TITLE, 0, 0);
    ctx.restore();

    // legend
    const lx = 761, ly = 38, lw = 266, lh = 138;
    ctx.fillStyle = "#ffffff";
    ctx.fillRect(lx, ly, lw, lh);
    ctx.strokeStyle = INK;
    ctx.lineWidth = 1;
    ctx.strokeRect(lx + 0.5, ly + 0.5, lw, lh);
    ctx.font = `24.5px ${FONT}`;
    ctx.textAlign = "left";
    chart.data.datasets.forEach((ds: any, i: number) => {
      const cy = 58 + i * 33.5;
      ctx.strokeStyle = ds.borderColor;
      ctx.lineWidth = 2;
      ctx.beginPath();
      ctx.moveTo(769, cy);
      ctx.lineTo(836, cy);
      ctx.stroke();
      ctx.fillStyle = "#000000";
      ctx.fillText(ds.label, 842, cy + 8.5);
    });

    ctx.restore();
  },
};

export default function App() {
  const canvasRef = useRef<HTMLCanvasElement | null>(null);

  useEffect(() => {
    document.body.style.margin = "0";
    document.body.style.overflow = "hidden";
    const canvas = canvasRef.current;
    if (!canvas) return;

    const chart = new Chart(canvas, {
      type: "line",
      data: {
        datasets: SERIES_LABELS.map((label, i) => ({
          label,
          data: SERIES_DATA[i].map(([x, y]) => ({ x, y })),
          borderColor: SERIES_COLORS[i],
          backgroundColor: SERIES_COLORS[i],
          borderWidth: 2,
          pointRadius: 0,
          tension: 0,
          fill: false,
          order: SERIES_ORDER[i],
        })),
      },
      options: {
        responsive: false,
        animation: false,
        events: [],
        layout: { padding: { left: 0, right: 0, top: 20, bottom: 0 } },
        plugins: {
          legend: { display: false },
          tooltip: { enabled: false },
          title: { display: false },
        },
        scales: {
          x: {
            type: "linear",
            min: X_MIN,
            max: X_MAX,
            grid: { display: false },
            border: { display: false },
            ticks: { display: false },
            afterFit: (scale: any) => {
              scale.height = 84;
            },
          },
          y: {
            type: "logarithmic",
            min: Y_MIN,
            max: Y_MAX,
            grid: { display: false },
            border: { display: false },
            ticks: { display: false },
            afterFit: (scale: any) => {
              scale.width = 111;
            },
          },
        },
      },
      plugins: [decorPlugin],
    });

    return () => {
      chart.destroy();
    };
  }, []);

  return (
    <div style={{ width: 1044, height: 495, background: "#ffffff" }}>
      <canvas ref={canvasRef} width={1044} height={495} style={{ display: "block" }} />
    </div>
  );
}
